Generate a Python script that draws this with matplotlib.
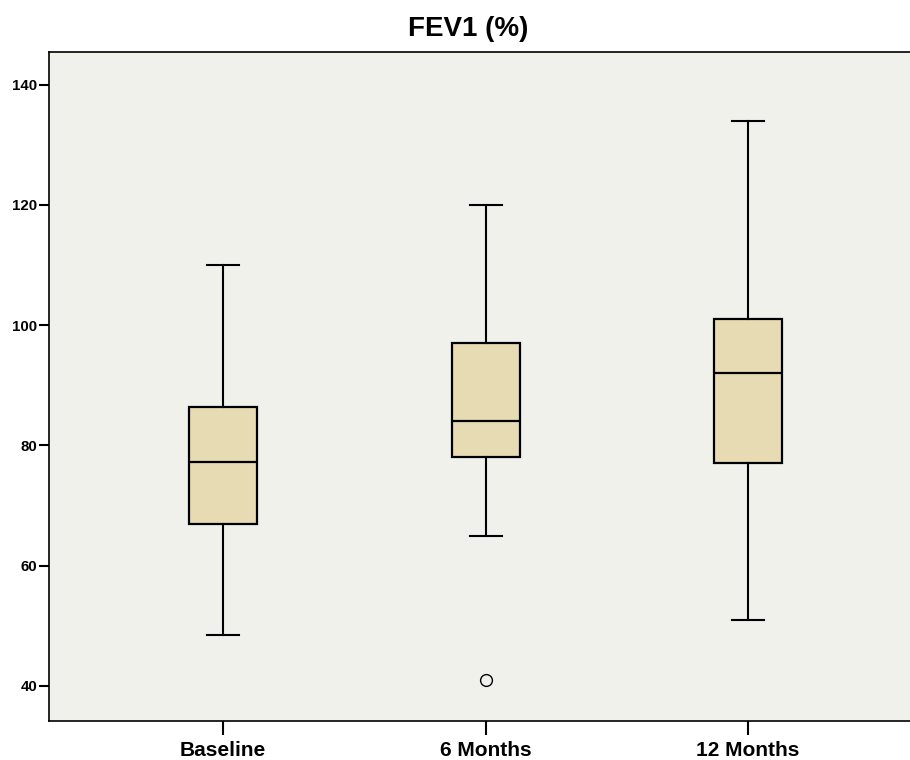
import matplotlib.pyplot as plt

plt.rcParams['font.family'] = ['Liberation Sans', 'DejaVu Sans']

groups = ['Baseline', '6 Months', '12 Months']
whisker_low = [48.5, 65, 51]
q1 = [66.9, 78, 77]
median = [77.2, 84, 92]
q3 = [86.3, 97, 101]
whisker_high = [110, 120, 134]
outliers = [[], [41], []]

stats = []
for i, name in enumerate(groups):
    stats.append({'label': name, 'whislo': whisker_low[i], 'q1': q1[i],
                  'med': median[i], 'q3': q3[i], 'whishi': whisker_high[i],
                  'fliers': outliers[i]})

fig = plt.figure(figsize=(9.1, 7.6), dpi=100)
ax = fig.add_axes([0.0535, 0.051, 0.9465, 0.881])
ax.set_facecolor('#f1f1ec')

ax.bxp(stats, positions=[1, 2, 3], widths=0.26, capwidths=0.122,
       patch_artist=True,
       boxprops=dict(facecolor='#e7dbb4', edgecolor='black', linewidth=1.6),
       medianprops=dict(color='black', linewidth=1.6),
       whiskerprops=dict(color='black', linewidth=1.5),
       capprops=dict(color='black', linewidth=1.5),
       flierprops=dict(marker='o', markersize=8.5, markerfacecolor='none',
                       markeredgecolor='black', markeredgewidth=1.0))

ax.set_xlim(0.335, 3.617)
ax.set_ylim(34.1, 145.5)
ax.set_yticks([40, 60, 80, 100, 120, 140])
ax.set_xticks([1, 2, 3])
ax.set_xticklabels(groups)

ax.spines['right'].set_visible(False)
for s in ['left', 'top', 'bottom']:
    ax.spines[s].set_linewidth(1.2)

ax.tick_params(axis='y', direction='out', length=7, width=1.5, labelsize=10.8, pad=1)
ax.tick_params(axis='x', direction='out', length=10, width=1.5, labelsize=15, pad=4)
for lab in ax.get_xticklabels() + ax.get_yticklabels():
    lab.set_fontweight('bold')

fig.text(468 / 910, 1 - 36 / 760, 'FEV1 (%)', ha='center', va='baseline',
         fontsize=20, fontweight='bold')

fig.savefig('out.png', dpi=100)
